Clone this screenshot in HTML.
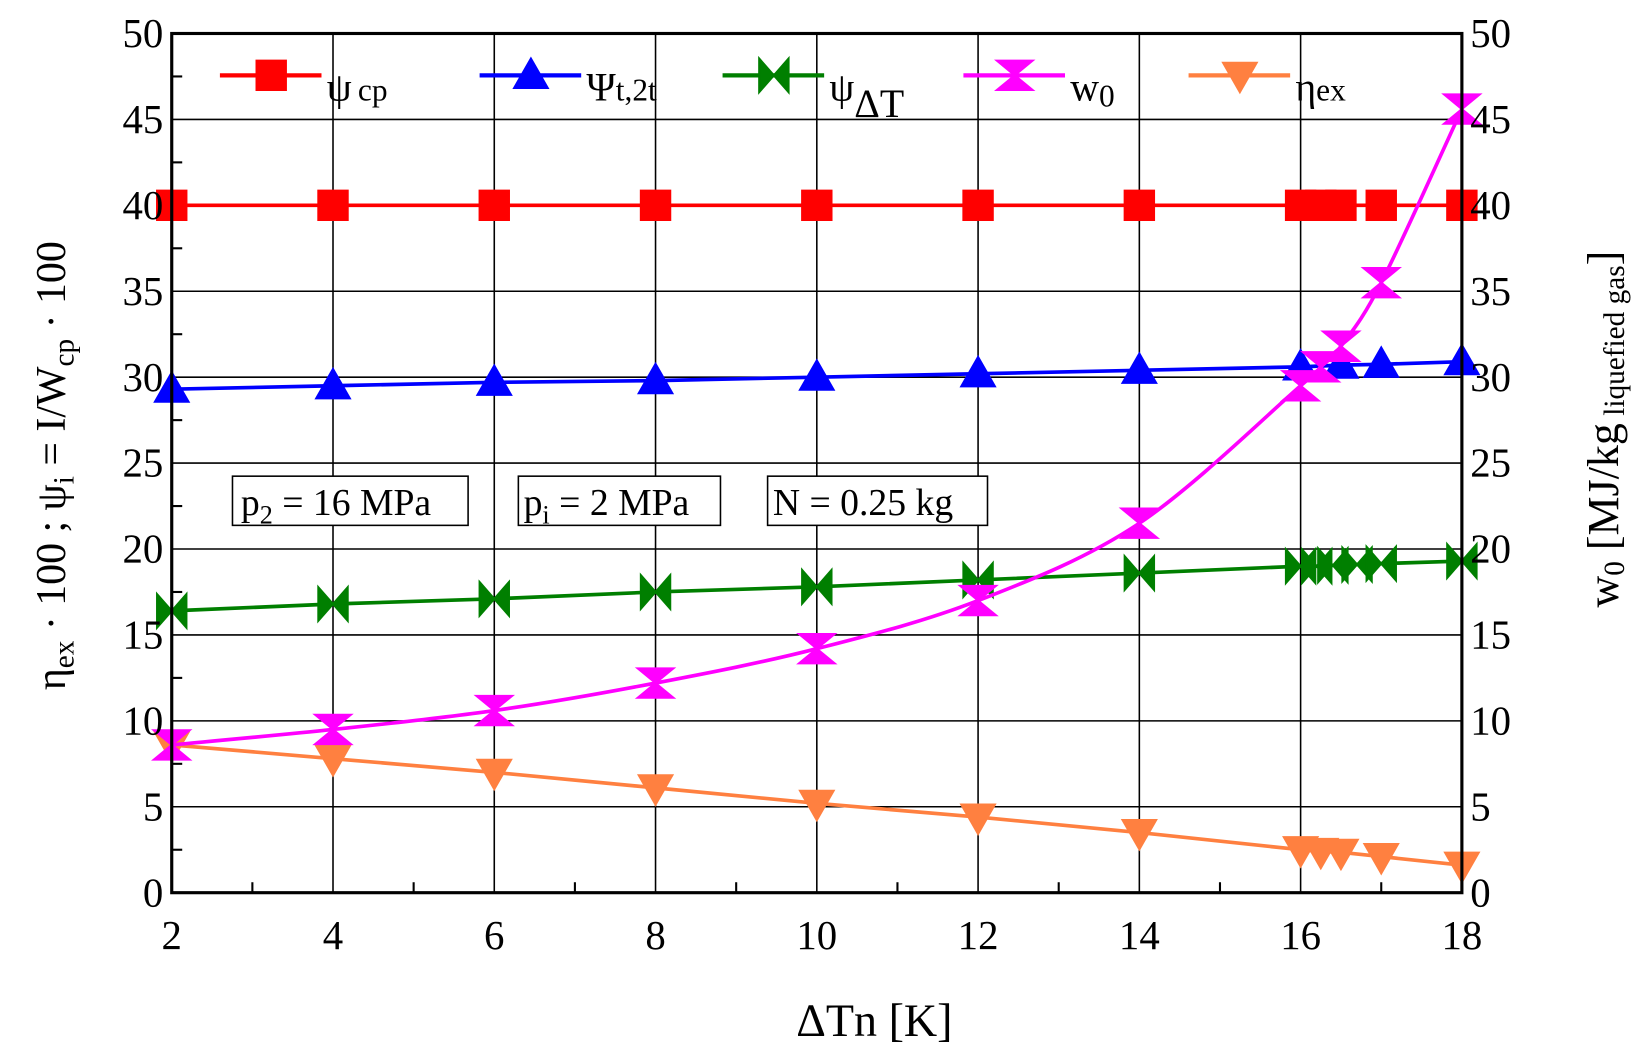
<!DOCTYPE html>
<html><head><meta charset="utf-8"><style>
html,body{margin:0;padding:0;background:#fff;}
svg{display:block;font-family:"Liberation Serif",serif;}
</style></head><body>
<svg id="chart" width="1642" height="1057" viewBox="0 0 1568 1010" preserveAspectRatio="none" xmlns="http://www.w3.org/2000/svg">
<g id="grid"></g>
<g id="series"></g>
<rect x="164" y="32" width="1232" height="821" fill="none" stroke="#000" stroke-width="3"/>
<g id="ticks" font-size="39"></g>
<g id="legend" font-size="38"></g>
<g>
<rect x="222" y="455" width="225" height="47" fill="#fff" stroke="#000" stroke-width="1.5"/>
<text x="230" y="492" font-size="36">p<tspan font-size="25" dy="8">2</tspan><tspan dy="-8"> = 16 MPa</tspan></text></g>
<g>
<rect x="495" y="455" width="193" height="47" fill="#fff" stroke="#000" stroke-width="1.5"/>
<text x="500" y="492" font-size="36">p<tspan font-size="25" dy="8">i</tspan><tspan dy="-8"> = 2 MPa</tspan></text></g>
<g>
<rect x="733" y="455" width="210" height="47" fill="#fff" stroke="#000" stroke-width="1.5"/>
<text x="738" y="492" font-size="36">N = 0.25 kg</text></g>
<text x="835" y="990" font-size="44" text-anchor="middle">ΔTn [K]</text>
<text transform="translate(62,445) rotate(-90)" font-size="40" text-anchor="middle">η<tspan font-size="28" dy="8">ex</tspan><tspan dy="-8"> · 100 ;  ψ</tspan><tspan font-size="28" dy="8">i</tspan><tspan dy="-8">  =  I/W</tspan><tspan font-size="28" dy="8">cp</tspan><tspan dy="-8"> · 100</tspan></text>
<text transform="translate(1545,410) rotate(-90)" font-size="42" text-anchor="middle">w<tspan font-size="28" dy="6">0</tspan><tspan dy="-6"> [MJ/kg</tspan><tspan font-size="28" dy="6"> liquefied gas</tspan><tspan dy="-6">]</tspan></text>
</svg>
<script>
const xPsiCp=[2,4,6,8,10,12,14,16,16.25,16.5,17,18];
const psiCp=[40,40,40,40,40,40,40,40,40,40,40,40];
const xPsiT=[2,4,6,8,10,12,14,16,16.5,17,18];
const psiT=[29.3,29.5,29.7,29.8,30.0,30.2,30.4,30.6,30.7,30.75,30.9];
const xPsiDT=[2,4,6,8,10,12,14,16,16.2,16.4,16.7,17,18];
const psiDT=[16.4,16.8,17.1,17.5,17.8,18.2,18.6,19.0,19.0,19.05,19.1,19.15,19.3];
const xW0=[2,4,6,8,10,12,14,16,16.25,16.5,17,18];
const w0=[8.6,9.5,10.6,12.2,14.2,17.0,21.5,29.5,30.6,31.8,35.5,45.6];
const xEta=[2,4,6,8,10,12,14,16,16.25,16.5,17,18];
const eta=[8.6,7.8,7.0,6.1,5.2,4.4,3.5,2.5,2.4,2.35,2.1,1.6];
const xTicks=[2,4,6,8,10,12,14,16,18];
const yTicks=[0,5,10,15,20,25,30,35,40,45,50];
const NS="http://www.w3.org/2000/svg";
const L=164,R=1396,T=32,B=853;
const sx=v=>L+(v-2)/16*(R-L);
const sy=v=>B-v/50*(B-T);
function mk(tag,attrs,parent){const e=document.createElementNS(NS,tag);for(const k in attrs)e.setAttribute(k,attrs[k]);parent.appendChild(e);return e;}
const grid=document.getElementById('grid'),ticks=document.getElementById('ticks'),ser=document.getElementById('series'),leg=document.getElementById('legend');
xTicks.forEach(v=>{
 const g=mk('line',{x1:sx(v),x2:sx(v),y1:T,y2:B,stroke:'#000','stroke-width':1.5},grid);
 
 
 const t=mk('text',{x:sx(v),y:B+54,'text-anchor':'middle'},ticks);t.textContent=v;
 
 
});
for(let v=3;v<18;v+=2){mk('line',{x1:sx(v),x2:sx(v),y1:B,y2:B-10,stroke:'#000','stroke-width':2},ticks);}
yTicks.forEach(v=>{
 const g=mk('line',{x1:L,x2:R,y1:sy(v),y2:sy(v),stroke:'#000','stroke-width':1.5},grid);
 
 
 const t=mk('text',{x:L-8,y:sy(v)+13,'text-anchor':'end'},ticks);t.textContent=v;
 
 
 const t2=mk('text',{x:R+8,y:sy(v)+13},ticks);t2.textContent=v;
 
 
});
for(let v=2.5;v<50;v+=5){mk('line',{x1:L,x2:L+10,y1:sy(v),y2:sy(v),stroke:'#000','stroke-width':2},ticks);}
const S=14;
function marker(type,x,y,color,parent){
 let d;
 if(type==='sq')d=`M${x-S} ${y-S}h${2*S}v${2*S}h${-2*S}z`;
 if(type==='up')d=`M${x} ${y-S-2}L${x+S+2} ${y+S-2}L${x-S-2} ${y+S-2}z`;
 if(type==='down')d=`M${x} ${y+S+2}L${x+S+2} ${y-S+2}L${x-S-2} ${y-S+2}z`;
 if(type==='bowh')d=`M${x-S} ${y-S-2}L${x} ${y}L${x-S} ${y+S+2}zM${x+S} ${y-S-2}L${x} ${y}L${x+S} ${y+S+2}z`;
 if(type==='bowv')d=`M${x-S-3} ${y-S}L${x+S+3} ${y-S}L${x} ${y}zM${x-S-3} ${y+S}L${x+S+3} ${y+S}L${x} ${y}z`;
 const p=mk('path',{d:d,fill:color,stroke:color,'stroke-width':2,'stroke-linejoin':'miter'},parent);
 
 
}
function series(name,xs,ys,color,type,smooth){
 const g=mk('g',{},ser);
 
 
 let d='';
 if(smooth){
  const pts=xs.map((x,i)=>[sx(x),sy(ys[i])]);
  d=`M${pts[0][0]} ${pts[0][1]}`;
  for(let i=0;i<pts.length-1;i++){
   const p0=pts[i-1]||pts[i],p1=pts[i],p2=pts[i+1],p3=pts[i+2]||p2;
   d+=`C${p1[0]+(p2[0]-p0[0])/6} ${p1[1]+(p2[1]-p0[1])/6} ${p2[0]-(p3[0]-p1[0])/6} ${p2[1]-(p3[1]-p1[1])/6} ${p2[0]} ${p2[1]}`;
  }
 } else d=xs.map((x,i)=>(i?'L':'M')+sx(x)+' '+sy(ys[i])).join('');
 const l=mk('path',{d:d,fill:'none',stroke:color,'stroke-width':3.5},g);
 
 
 xs.forEach((x,i)=>marker(type,sx(x),sy(ys[i]),color,g));
}
series('series-psi-cp',xPsiCp,psiCp,'#ff0000','sq',false);
series('series-psi-t2t',xPsiT,psiT,'#0000ff','up',false);
series('series-psi-dt',xPsiDT,psiDT,'#007f00','bowh',false);
series('series-eta-ex',xEta,eta,'#ff8040','down',false);
series('series-w0',xW0,w0,'#ff00ff','bowv',true);
const items=[
 {x:210,c:'#ff0000',t:'sq',lab:'ψ<tspan font-size="30" dx="6">cp</tspan>'},
 {x:458,c:'#0000ff',t:'up',lab:'Ψ<tspan font-size="30">t,2t</tspan>'},
 {x:690,c:'#007f00',t:'bowh',lab:'ψ<tspan dy="16" font-size="38">ΔT</tspan>'},
 {x:920,c:'#ff00ff',t:'bowv',lab:'w<tspan font-size="30" dy="6">0</tspan>'},
 {x:1135,c:'#ff8040',t:'down',lab:'η<tspan font-size="30">ex</tspan>'}
];
items.forEach(it=>{
 const g=mk('g',{},leg);
 
 
 mk('line',{x1:it.x,x2:it.x+97,y1:72,y2:72,stroke:it.c,'stroke-width':4},g);
 marker(it.t,it.x+49,72,it.c,g);
 const t=mk('text',{x:it.x+102,y:96},g);t.innerHTML=it.lab;
});
</script>
</body></html>
